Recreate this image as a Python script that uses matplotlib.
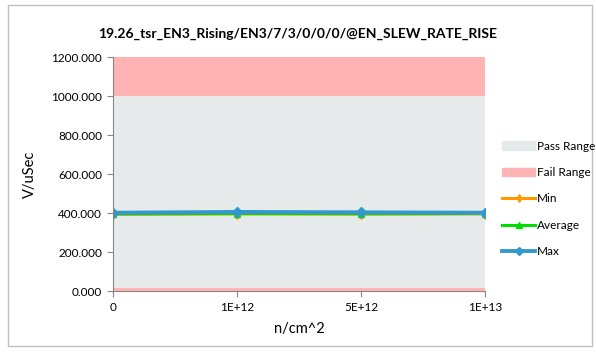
import matplotlib.pyplot as plt
from matplotlib.patches import Patch, Rectangle
from matplotlib.lines import Line2D

plt.rcParams['font.family'] = ['Lato', 'DejaVu Sans']

categories = ["0", "1E+12", "5E+12", "1E+13"]
fail_low = [15, 15, 15, 15]
pass_top = [1000, 1000, 1000, 1000]
fail_high = [1200, 1200, 1200, 1200]
min_vals = [394, 396, 395, 396]
avg_vals = [396, 398, 397, 398]
max_vals = [402, 406, 404, 402]

x = list(range(len(categories)))

fig = plt.figure(figsize=(5.96, 3.55), dpi=100)
fig.patches.append(Rectangle((0.014, 0.025), 0.98, 0.962, transform=fig.transFigure,
                             fill=False, edgecolor="#bfbfbf", linewidth=1.0))
ax = fig.add_axes([0.190, 0.180, 0.624, 0.659])

ax.fill_between(x, 0, fail_low, color="#ffb3b3", linewidth=0)
ax.fill_between(x, fail_low, pass_top, color="#e6eaea", linewidth=0)
ax.fill_between(x, pass_top, fail_high, color="#ffb3b3", linewidth=0)

ax.plot(x, min_vals, color="#ff9900", linewidth=2.2, marker="d", markersize=5)
ax.plot(x, avg_vals, color="#00dd00", linewidth=2.2, marker="^", markersize=5)
ax.plot(x, max_vals, color="#3399cc", linewidth=2.8, marker="D", markersize=5)

ax.set_xlim(0, len(categories) - 1)
ax.set_ylim(0, 1200)
ax.set_xticks(x)
ax.set_xticklabels(categories, fontsize=8.5)
ax.set_yticks(range(0, 1201, 200))
ax.set_yticklabels([f"{v:.3f}" for v in range(0, 1201, 200)], fontsize=8.5)
ax.tick_params(axis="both", length=4, color="#868686", pad=4)

for s in ["top", "right"]:
    ax.spines[s].set_visible(False)
for s in ["left", "bottom"]:
    ax.spines[s].set_color("#868686")
    ax.spines[s].set_linewidth(0.8)

ax.set_xlabel("n/cm^2", fontsize=10.5, labelpad=6)
ax.set_ylabel("V/uSec", fontsize=10.5, labelpad=10)
fig.text(0.5, 0.905, "19.26_tsr_EN3_Rising/EN3/7/3/0/0/0/@EN_SLEW_RATE_RISE",
         ha="center", va="center", fontsize=10, fontweight="bold")

handles = [
    Patch(color="#e6eaea", label="Pass Range"),
    Patch(color="#ffb3b3", label="Fail Range"),
    Line2D([], [], color="#ff9900", linewidth=2.2, marker="d", markersize=4, label="Min"),
    Line2D([], [], color="#00dd00", linewidth=2.2, marker="^", markersize=4, label="Average"),
    Line2D([], [], color="#3399cc", linewidth=2.8, marker="D", markersize=4, label="Max"),
]
fig.legend(handles=handles, loc="center left", bbox_to_anchor=(0.825, 0.44),
           frameon=False, fontsize=8.5, handlelength=2.8, labelspacing=1.3,
           handletextpad=0.1)

fig.savefig("out.png", dpi=100)
